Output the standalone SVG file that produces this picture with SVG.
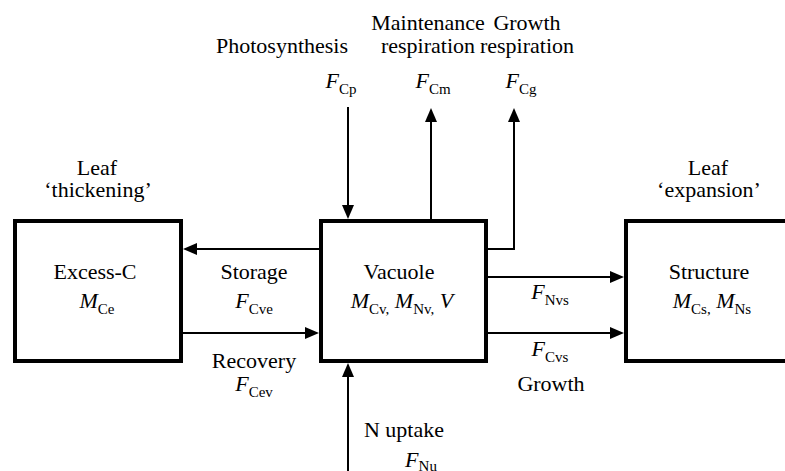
<svg xmlns="http://www.w3.org/2000/svg" width="785" height="471" viewBox="0 0 785 471">
<rect width="785" height="471" fill="#fff"/>
<g id="connectors" stroke="#000" stroke-width="2" fill="none">
<line x1="319" y1="249" x2="196" y2="249"/>
<line x1="183" y1="333" x2="306" y2="333"/>
<line x1="488" y1="277" x2="611" y2="277"/>
<line x1="488" y1="333" x2="611" y2="333"/>
<polyline points="488,249 514,249 514,121"/>
<line x1="431" y1="219" x2="431" y2="121"/>
<line x1="348" y1="107" x2="348" y2="206"/>
<line x1="348" y1="471" x2="348" y2="376"/>
<g fill="#000" stroke="none">
<path d="M183,249 L197,243 L197,255 Z"/>
<path d="M319,333 L305,327 L305,339 Z"/>
<path d="M624,277 L610,271 L610,283 Z"/>
<path d="M624,333 L610,327 L610,339 Z"/>
<path d="M514,108 L508,122 L520,122 Z"/>
<path d="M431,108 L425,122 L437,122 Z"/>
<path d="M348,219 L342,205 L354,205 Z"/>
<path d="M348,363 L342,377 L354,377 Z"/>
</g>
</g>
<g fill="#fff" stroke="#000" stroke-width="4">
<rect id="excess-box" x="15" y="221" width="166" height="140"/>
<rect id="vacuole-box" x="321" y="221" width="165" height="140"/>
<rect id="structure-box" x="626" y="221" width="200" height="140"/>
</g>
<g font-size="22" text-anchor="middle" fill="#000">
<g id="excess">
<text font-family="Liberation Serif" x="97" y="175">Leaf</text>
<text font-family="Liberation Serif" x="98" y="197">‘thickening’</text>
<text font-family="Liberation Serif" x="95" y="279">Excess-C</text>
<text font-family="Liberation Serif" x="97" y="308"><tspan font-style="italic">M</tspan><tspan font-size="15" dy="6">Ce</tspan></text>
</g>
<g id="vacuole">
<text font-family="Liberation Serif" x="399" y="279">Vacuole</text>
<text font-family="Liberation Serif" x="402" y="308"><tspan font-style="italic">M</tspan><tspan font-size="15" dy="6">Cv,</tspan><tspan dy="-6"> </tspan><tspan font-style="italic">M</tspan><tspan font-size="15" dy="6">Nv,</tspan><tspan dy="-6"> </tspan><tspan font-style="italic">V</tspan></text>
</g>
<g id="structure">
<text font-family="Liberation Serif" x="708" y="175">Leaf</text>
<text font-family="Liberation Serif" x="709" y="197">‘expansion’</text>
<text font-family="Liberation Serif" x="709" y="279">Structure</text>
<text font-family="Liberation Serif" x="712" y="308"><tspan font-style="italic">M</tspan><tspan font-size="15" dy="6">Cs,</tspan><tspan dy="-6"> </tspan><tspan font-style="italic">M</tspan><tspan font-size="15" dy="6">Ns</tspan></text>
</g>
<g id="photosynthesis">
<text font-family="Liberation Serif" x="282" y="53">Photosynthesis</text>
<text font-family="Liberation Serif" x="341" y="88"><tspan font-style="italic">F</tspan><tspan font-size="15" dy="6">Cp</tspan></text>
</g>
<g id="maintenance">
<text font-family="Liberation Serif" x="428" y="30">Maintenance</text>
<text font-family="Liberation Serif" x="428" y="53">respiration</text>
<text font-family="Liberation Serif" x="433" y="88"><tspan font-style="italic">F</tspan><tspan font-size="15" dy="6">Cm</tspan></text>
</g>
<g id="growthresp">
<text font-family="Liberation Serif" x="527" y="30">Growth</text>
<text font-family="Liberation Serif" x="527" y="53">respiration</text>
<text font-family="Liberation Serif" x="521" y="88"><tspan font-style="italic">F</tspan><tspan font-size="15" dy="6">Cg</tspan></text>
</g>
<g id="storage">
<text font-family="Liberation Serif" x="254" y="279">Storage</text>
<text font-family="Liberation Serif" x="254" y="308"><tspan font-style="italic">F</tspan><tspan font-size="15" dy="6">Cve</tspan></text>
</g>
<g id="recovery">
<text font-family="Liberation Serif" x="254" y="368">Recovery</text>
<text font-family="Liberation Serif" x="254" y="391"><tspan font-style="italic">F</tspan><tspan font-size="15" dy="6">Cev</tspan></text>
</g>
<g id="nflux">
<text font-family="Liberation Serif" x="550" y="299"><tspan font-style="italic">F</tspan><tspan font-size="15" dy="6">Nvs</tspan></text>
</g>
<g id="growth">
<text font-family="Liberation Serif" x="550" y="356"><tspan font-style="italic">F</tspan><tspan font-size="15" dy="6">Cvs</tspan></text>
<text font-family="Liberation Serif" x="551" y="391">Growth</text>
</g>
<g id="nuptake">
<text font-family="Liberation Serif" x="404" y="437">N uptake</text>
<text font-family="Liberation Serif" x="421" y="467"><tspan font-style="italic">F</tspan><tspan font-size="15" dy="4">Nu</tspan></text>
</g>
</g>
</svg>
